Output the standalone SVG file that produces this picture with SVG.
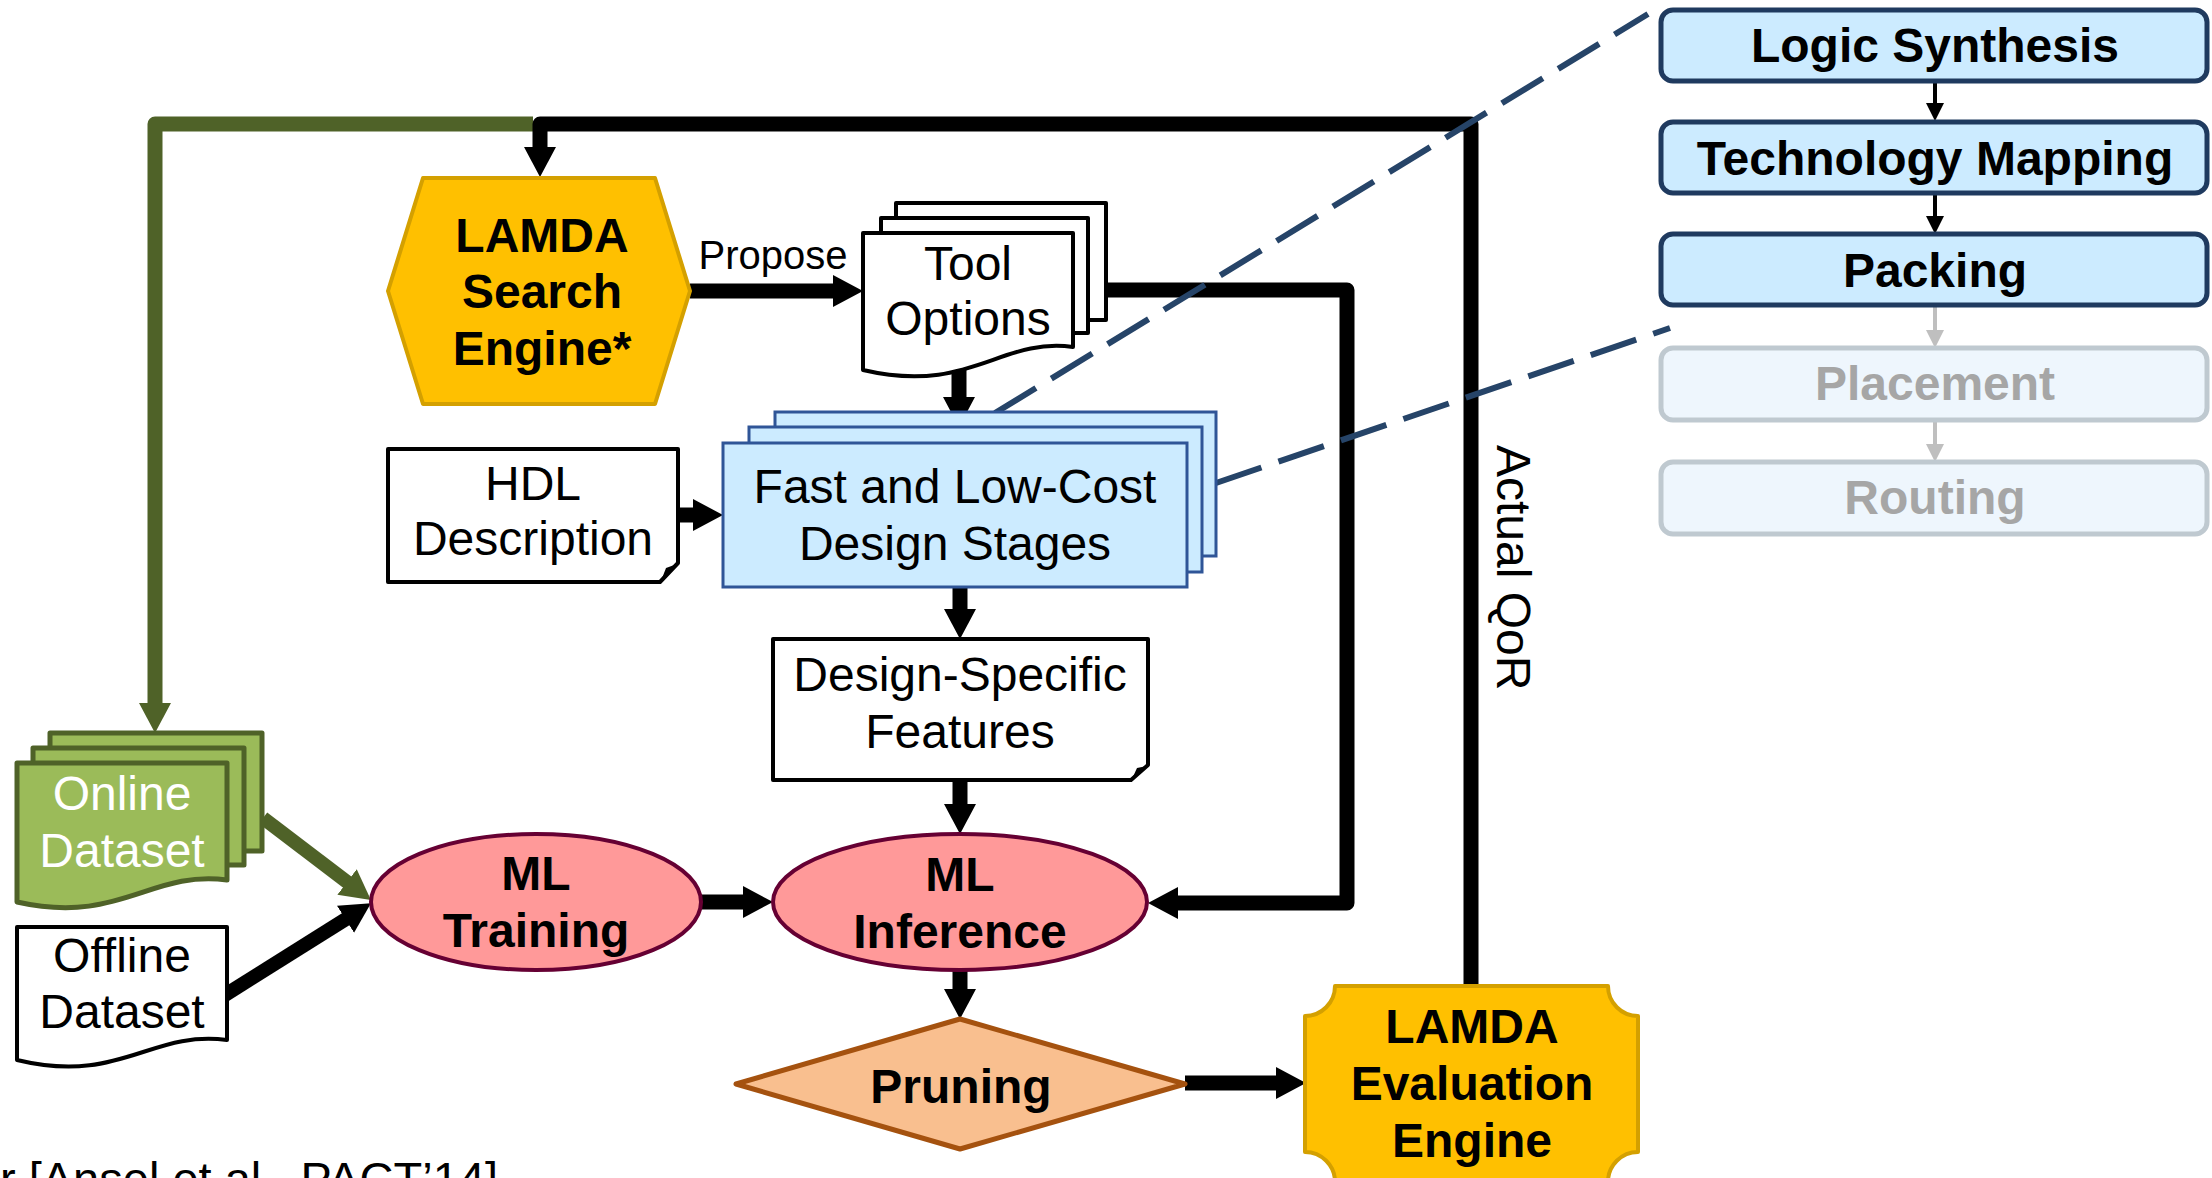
<svg xmlns="http://www.w3.org/2000/svg" width="2212" height="1178" viewBox="0 0 2212 1178">
<style>
text{font-family:"Liberation Sans",Arial,sans-serif;font-size:48px;text-anchor:middle;fill:#000}
.b{font-weight:bold;font-size:48px}
.w{fill:#fff}
.g{fill:#A6A6A6}
.doc{fill:#fff;stroke:#000;stroke-width:4;stroke-linejoin:round}
.grn{fill:#9BBB59;stroke:#4F6228;stroke-width:5;stroke-linejoin:round}
.blu{fill:#CCEBFF;stroke:#2F5597;stroke-width:3}
.gold{fill:#FFC000;stroke:#D4A000;stroke-width:4;stroke-linejoin:round}
.ml{fill:#FF9999;stroke:#660033;stroke-width:4}
.stage{fill:#CCEBFF;stroke:#1F3A5F;stroke-width:5}
.stage2{fill:#EEF6FD;stroke:#BFC9D0;stroke-width:5}
.k{fill:none;stroke:#000;stroke-width:15;stroke-linejoin:round}
.kg{fill:none;stroke:#4F6228;stroke-width:15;stroke-linejoin:round}
.thin{fill:none;stroke:#000;stroke-width:4}
.thing{fill:none;stroke:#BFBFBF;stroke-width:4}
.dash{fill:none;stroke:#264468;stroke-width:6;stroke-dasharray:48 18}
</style>
<defs>
<marker id="ah" markerUnits="userSpaceOnUse" viewBox="0 0 30 32" refX="10" refY="16" markerWidth="30" markerHeight="32" orient="auto"><path d="M0,0L30,16L0,32Z" fill="#000"/></marker>
<marker id="ahg" markerUnits="userSpaceOnUse" viewBox="0 0 30 32" refX="10" refY="16" markerWidth="30" markerHeight="32" orient="auto"><path d="M0,0L30,16L0,32Z" fill="#4F6228"/></marker>
<marker id="sa" markerUnits="userSpaceOnUse" viewBox="0 0 18 18" refX="8" refY="9" markerWidth="18" markerHeight="18" orient="auto"><path d="M0,0L18,9L0,18Z" fill="#000"/></marker>
<marker id="sag" markerUnits="userSpaceOnUse" viewBox="0 0 18 18" refX="8" refY="9" markerWidth="18" markerHeight="18" orient="auto"><path d="M0,0L18,9L0,18Z" fill="#BFBFBF"/></marker>
</defs>

<g id="connectors">
<path class="kg" d="M533,124H155V713" marker-end="url(#ahg)"/>
<path class="k" d="M1471,986V124H540V157" marker-end="url(#ah)"/>
<path class="k" d="M690,291H843" marker-end="url(#ah)"/>
<path class="k" d="M959,362V407" marker-end="url(#ah)"/>
<path class="k" d="M678,515H703" marker-end="url(#ah)"/>
<path class="k" d="M960,587V619" marker-end="url(#ah)"/>
<path class="k" d="M960,780V814" marker-end="url(#ah)"/>
<path class="k" d="M702,902H753" marker-end="url(#ah)"/>
<path class="k" d="M1106,290H1347V903H1168" marker-end="url(#ah)"/>
<path class="k" d="M960,971V999" marker-end="url(#ah)"/>
<path class="k" d="M1185,1083H1286" marker-end="url(#ah)"/>
<path class="kg" style="stroke-width:14" d="M263,818L355,888" marker-end="url(#ahg)"/>
<path class="k" style="stroke-width:14" d="M225,995L354,914" marker-end="url(#ah)"/>
<path class="thin" d="M1935,81V111" marker-end="url(#sa)"/>
<path class="thin" d="M1935,193V224" marker-end="url(#sa)"/>
<path class="thing" d="M1935,305V338" marker-end="url(#sag)"/>
<path class="thing" d="M1935,420V452" marker-end="url(#sag)"/>
<path class="dash" d="M995,413L1648,14"/>
<path class="dash" d="M1216,483L1670,328"/>
<text x="773" y="269" style="font-size:40px">Propose</text>
<text transform="translate(1497,445) rotate(90)" style="text-anchor:start">Actual QoR</text>
</g>

<g id="search-engine">
<polygon class="gold" points="423,178 655,178 690,291 655,404 423,404 388,291"/>
<text class="b" x="542" y="252">LAMDA</text>
<text class="b" x="542" y="308">Search</text>
<text class="b" x="542" y="365">Engine*</text>
</g>

<g id="tool-options">
<rect class="doc" x="896" y="203" width="210" height="117"/>
<rect class="doc" x="881" y="218" width="207" height="115"/>
<path class="doc" d="M863,370V233H1073V347C1000,337 970,395 863,370Z"/>
<text x="968" y="280">Tool</text>
<text x="968" y="335">Options</text>
</g>

<g id="hdl-description">
<path class="doc" d="M388,449H678V563L660,582H388Z"/>
<path d="M661,581L677,564L666,568Z" fill="#000"/>
<text x="533" y="500">HDL</text>
<text x="533" y="555">Description</text>
</g>

<g id="design-stages">
<rect class="blu" x="775" y="412" width="441" height="144"/>
<rect class="blu" x="749" y="427" width="453" height="145"/>
<rect class="blu" x="723" y="443" width="464" height="144"/>
<text x="955" y="503">Fast and Low-Cost</text>
<text x="955" y="560">Design Stages</text>
</g>

<g id="design-features">
<path class="doc" d="M773,639H1148V765L1131,780H773Z"/>
<path d="M1132,779L1147,766L1137,768Z" fill="#000"/>
<text x="960" y="691">Design-Specific</text>
<text x="960" y="748">Features</text>
</g>

<g id="online-dataset">
<rect class="grn" x="50" y="733" width="212" height="118"/>
<rect class="grn" x="33" y="748" width="211" height="117"/>
<path class="grn" d="M17,902V763H227V880C150,870 120,925 17,902Z"/>
<text class="w" x="122" y="810">Online</text>
<text class="w" x="122" y="867">Dataset</text>
</g>

<g id="offline-dataset">
<path class="doc" d="M17,1060V927H227V1040C150,1030 120,1085 17,1060Z"/>
<text x="122" y="972">Offline</text>
<text x="122" y="1028">Dataset</text>
</g>

<g id="ml-training">
<ellipse class="ml" cx="536" cy="902" rx="165" ry="68"/>
<text class="b" x="536" y="890">ML</text>
<text class="b" x="536" y="947">Training</text>
</g>

<g id="ml-inference">
<ellipse class="ml" cx="960" cy="902" rx="187" ry="68"/>
<text class="b" x="960" y="891">ML</text>
<text class="b" x="960" y="948">Inference</text>
</g>

<g id="pruning">
<polygon points="960,1019 1185,1084 960,1149 736,1084" fill="#F9BF8F" stroke="#A5520F" stroke-width="5" stroke-linejoin="round"/>
<text class="b" x="961" y="1103">Pruning</text>
</g>

<g id="eval-engine">
<path class="gold" d="M1335,986H1608A30,30 0 0 0 1638,1016V1152A30,30 0 0 0 1608,1182H1335A30,30 0 0 0 1305,1152V1016A30,30 0 0 0 1335,986Z"/>
<text class="b" x="1472" y="1043">LAMDA</text>
<text class="b" x="1472" y="1100">Evaluation</text>
<text class="b" x="1472" y="1157">Engine</text>
</g>

<g id="stage-logic-synthesis">
<rect class="stage" x="1661" y="10" width="546" height="71" rx="12"/>
<text class="b" x="1935" y="62">Logic Synthesis</text>
</g>
<g id="stage-technology-mapping">
<rect class="stage" x="1661" y="122" width="546" height="71" rx="12"/>
<text class="b" x="1935" y="175">Technology Mapping</text>
</g>
<g id="stage-packing">
<rect class="stage" x="1661" y="234" width="546" height="71" rx="12"/>
<text class="b" x="1935" y="287">Packing</text>
</g>
<g id="stage-placement">
<rect class="stage2" x="1661" y="348" width="546" height="72" rx="12"/>
<text class="b g" x="1935" y="400">Placement</text>
</g>
<g id="stage-routing">
<rect class="stage2" x="1661" y="462" width="546" height="72" rx="12"/>
<text class="b g" x="1935" y="514">Routing</text>
</g>

<text x="0" y="1195" style="text-anchor:start;font-size:47px">r [Ansel et al., PACT’14]</text>
</svg>
